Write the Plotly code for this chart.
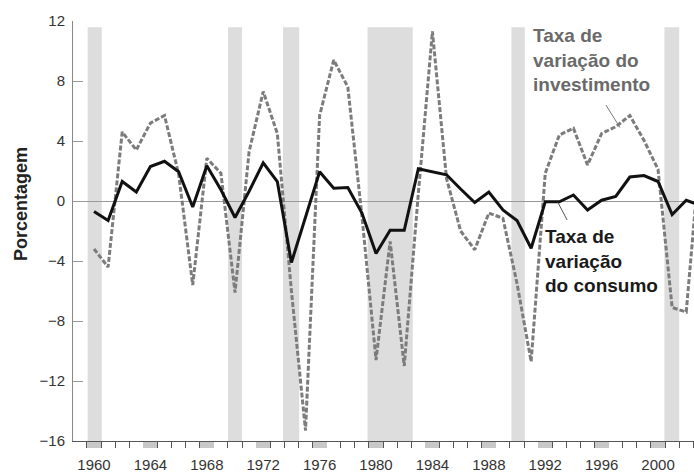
import plotly.graph_objects as go

# ---- data ----
years = list(range(1960, 2004))
consumo = [-0.7, -1.3, 1.3, 0.6, 2.3, 2.65, 1.95, -0.4, 2.35, 0.75,
           -1.1, 0.65, 2.55, 1.3, -4.1, -1.0, 1.95, 0.85, 0.9, -0.8,
           -3.5, -1.95, -1.95, 2.15, 1.95, 1.75, 0.8, -0.1, 0.6, -0.6,
           -1.3, -3.15, -0.05, -0.05, 0.4, -0.6, 0.05, 0.3, 1.6, 1.7,
           1.3, -0.9, 0.05, -0.3]
investimento = [-3.2, -4.4, 4.6, 3.4, 5.2, 5.7, 1.8, -5.6, 2.85, 1.85,
                -6.1, 3.3, 7.3, 4.5, -6.0, -15.3, 5.7, 9.4, 7.6, -1.0,
                -10.6, -2.7, -11.0, 0.5, 11.3, 1.5, -2.0, -3.25, -0.8, -1.15,
                -5.5, -10.7, 1.85, 4.4, 4.85, 2.4, 4.5, 4.95, 5.7, 4.05,
                2.1, -7.1, -7.4, 3.5]
rec_start = [1959.55, 1969.5, 1973.4, 1979.4, 1989.6, 2000.45]
rec_end = [1960.55, 1970.5, 1974.55, 1982.6, 1990.55, 2001.5]
x_ticks = list(range(1960, 2001, 4))
y_ticks = [-16, -12, -8, -4, 0, 4, 8, 12]
y_ticktext = ["\u221216", "\u221212", "\u22128", "\u22124", "0", "4", "8", "12"]

FONT = "Liberation Sans, Arial, sans-serif"

fig = go.Figure()

for s, e in zip(rec_start, rec_end):
    fig.add_shape(type="rect", xref="x", yref="paper", x0=s, x1=e, y0=0, y1=0.985,
                  fillcolor="#dddddd", line=dict(width=0), layer="below")

fig.add_trace(go.Scatter(x=years, y=investimento, mode="lines",
                         line=dict(color="#7c7c7c", width=3, dash="5px,2px"),
                         showlegend=False, hoverinfo="skip"))
fig.add_trace(go.Scatter(x=years, y=consumo, mode="lines",
                         line=dict(color="#111111", width=3),
                         showlegend=False, hoverinfo="skip"))

fig.update_layout(
    width=694, height=472,
    margin=dict(l=73, r=0, t=21, b=31, autoexpand=False),
    paper_bgcolor="white", plot_bgcolor="white",
    font=dict(family=FONT, size=15, color="#333333"),
    xaxis=dict(range=[1958.51, 2002.55], tickmode="array", tickvals=x_ticks,
               ticks="outside", ticklen=6, tickwidth=14, tickcolor="#c8c8c8",
               showline=True, linecolor="#555555", linewidth=1,
               showgrid=False, zeroline=False, ticklabelstandoff=4,
               automargin=False,
               tickfont=dict(size=15, color="#333333"),
               minor=dict(tickmode="linear", tick0=1958.5, dtick=1,
                          ticks="outside", ticklen=6, tickwidth=1,
                          tickcolor="#555555", showgrid=False)),
    yaxis=dict(range=[-16, 12], tickmode="array", tickvals=y_ticks,
               ticktext=y_ticktext, ticks="inside", ticklen=10,
               tickcolor="#999999", tickwidth=1,
               showline=True, linecolor="#888888", linewidth=1,
               showgrid=False, zeroline=True, zerolinecolor="#999999",
               zerolinewidth=1, ticklabelstandoff=4, automargin=False,
               tickfont=dict(size=15, color="#333333")),
)

# y-axis title
fig.add_annotation(text="<b>Porcentagem</b>", xref="paper", yref="paper",
                   x=-0.085, y=0.565, textangle=-90, showarrow=False,
                   xanchor="center", yanchor="middle",
                   font=dict(size=18, color="#222222", family=FONT))

# series labels
fig.add_annotation(text="<b>Taxa de<br>variação do<br>investimento</b>",
                   xref="paper", yref="paper", x=0.737, y=0.996,
                   xanchor="left", yanchor="top", align="left", showarrow=False,
                   font=dict(size=19, color="#6a6a6a", family=FONT))
fig.add_annotation(text="<b>Taxa de<br>variação<br>do consumo</b>",
                   xref="paper", yref="paper", x=0.757, y=0.516,
                   xanchor="left", yanchor="top", align="left", showarrow=False,
                   font=dict(size=19, color="#1a1a1a", family=FONT))

# pointer lines
fig.add_annotation(x=1997.3, y=4.9, xref="x", yref="y", text="",
                   showarrow=True, arrowhead=0, arrowwidth=1, arrowcolor="#777777",
                   ax=-15, ay=-24)
fig.add_annotation(x=1992.9, y=-0.1, xref="x", yref="y", text="",
                   showarrow=True, arrowhead=0, arrowwidth=1, arrowcolor="#555555",
                   ax=10, ay=19)

fig.write_html(
    "out.html",
    config={"displayModeBar": False},
    post_script="document.body.style.margin='0';document.body.style.overflow='hidden';",
)
